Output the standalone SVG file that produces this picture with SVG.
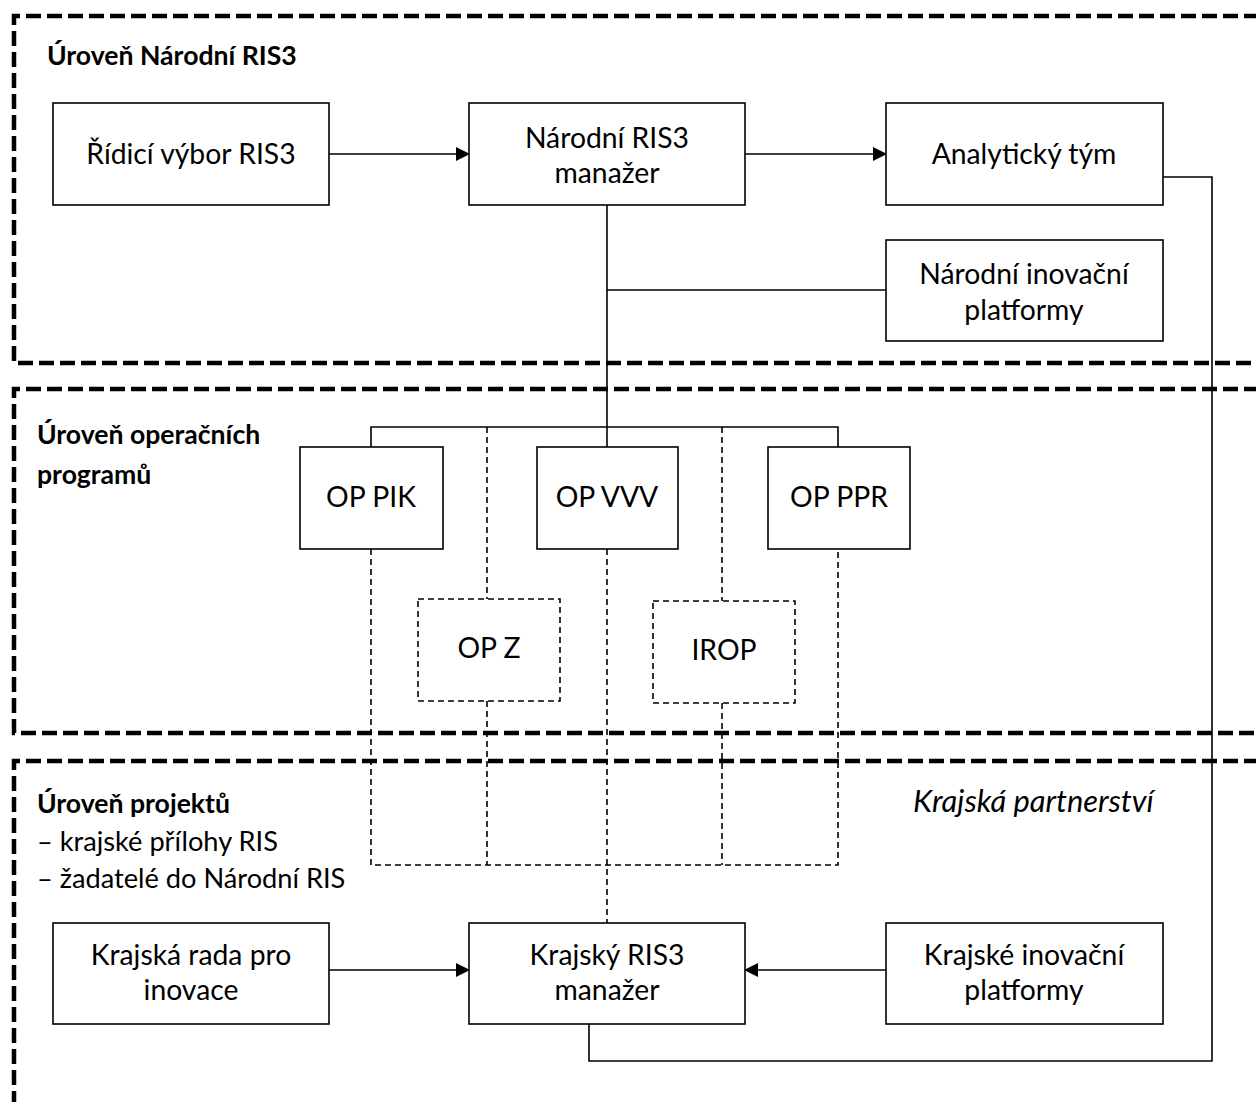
<svg xmlns="http://www.w3.org/2000/svg" width="1256" height="1102" viewBox="0 0 1256 1102">
<style>
.zone{fill:none;stroke:#000;stroke-width:4.5;stroke-dasharray:15 6}
.node rect{fill:#fff;stroke:#000;stroke-width:1.6}
.dnode rect{fill:#fff;stroke:#000;stroke-width:1.6;stroke-dasharray:6 4}
.t{font-family:Lato,"Open Sans",sans-serif;font-size:28.3px;fill:#000;text-anchor:middle}
.h{font-family:Lato,"Open Sans",sans-serif;font-size:26.6px;font-weight:bold;fill:#000}
.s{font-family:Lato,"Open Sans",sans-serif;font-size:27.2px;fill:#000}
.i{font-family:Lato,"Open Sans",sans-serif;font-size:30.8px;font-style:italic;fill:#000}
.c{fill:none;stroke:#000;stroke-width:1.6}
.cd{fill:none;stroke:#000;stroke-width:1.6;stroke-dasharray:6 4}
</style>
<defs>
<marker id="arr" markerWidth="14" markerHeight="14" refX="13" refY="7" orient="auto" markerUnits="userSpaceOnUse">
<path d="M0,0 L14,7 L0,14 Z" fill="#000"/>
</marker>
</defs>
<g id="zones">
<path class="zone" d="M1280,16 H14 V363 H1280"/>
<path class="zone" d="M1280,389 H14 V733 H1280"/>
<path class="zone" d="M1280,761 H14 V1120"/>
</g>
<g id="labels">
<text class="h" x="47" y="65">Úroveň Národní RIS3</text>
<text class="h" x="37" y="444">Úroveň operačních</text>
<text class="h" x="37" y="484">programů</text>
<text class="h" x="37" y="813">Úroveň projektů</text>
<text class="s" x="37" y="851">– krajské přílohy RIS</text>
<text class="s" x="37" y="888">– žadatelé do Národní RIS</text>
<text class="i" x="913" y="812">Krajská partnerství</text>
</g>
<g id="connectors">
<line class="c" x1="329" y1="154" x2="469" y2="154" marker-end="url(#arr)"/>
<line class="c" x1="745" y1="154" x2="886" y2="154" marker-end="url(#arr)"/>
<path class="c" d="M607,205 V447"/>
<path class="c" d="M607,290 H886"/>
<path class="c" d="M371,447 V427 H838 V447"/>
<path class="cd" d="M487,427 V599"/>
<path class="cd" d="M722,427 V601"/>
<path class="cd" d="M371,549 V865 H838 V549"/>
<path class="cd" d="M487,701 V865"/>
<path class="cd" d="M722,703 V865"/>
<path class="cd" d="M607,549 V923"/>
<path class="c" d="M1163,177 H1212 V1061 H589 V1024"/>
<line class="c" x1="329" y1="970" x2="469" y2="970" marker-end="url(#arr)"/>
<line class="c" x1="886" y1="970" x2="745" y2="970" marker-end="url(#arr)"/>
</g>
<g id="ridici" class="node"><rect x="53" y="103" width="276" height="102"/><text class="t" x="191" y="164">Řídicí výbor RIS3</text></g>
<g id="narodni-manazer" class="node"><rect x="469" y="103" width="276" height="102"/><text class="t" x="607" y="148">Národní RIS3</text><text class="t" x="607" y="183">manažer</text></g>
<g id="analyticky" class="node"><rect x="886" y="103" width="277" height="102"/><text class="t" x="1024" y="164">Analytický tým</text></g>
<g id="narodni-platformy" class="node"><rect x="886" y="240" width="277" height="101"/><text class="t" x="1024" y="284">Národní inovační</text><text class="t" x="1024" y="320">platformy</text></g>
<g id="op-pik" class="node"><rect x="300" y="447" width="143" height="102"/><text class="t" x="371" y="507">OP PIK</text></g>
<g id="op-vvv" class="node"><rect x="537" y="447" width="141" height="102"/><text class="t" x="607" y="507">OP VVV</text></g>
<g id="op-ppr" class="node"><rect x="768" y="447" width="142" height="102"/><text class="t" x="839" y="507">OP PPR</text></g>
<g id="op-z" class="dnode"><rect x="418" y="599" width="142" height="102"/><text class="t" x="489" y="658">OP Z</text></g>
<g id="irop" class="dnode"><rect x="653" y="601" width="142" height="102"/><text class="t" x="724" y="660">IROP</text></g>
<g id="krajska-rada" class="node"><rect x="53" y="923" width="276" height="101"/><text class="t" x="191" y="965">Krajská rada pro</text><text class="t" x="191" y="1000">inovace</text></g>
<g id="krajsky-manazer" class="node"><rect x="469" y="923" width="276" height="101"/><text class="t" x="607" y="965">Krajský RIS3</text><text class="t" x="607" y="1000">manažer</text></g>
<g id="krajske-platformy" class="node"><rect x="886" y="923" width="277" height="101"/><text class="t" x="1024" y="965">Krajské inovační</text><text class="t" x="1024" y="1000">platformy</text></g>
</svg>
